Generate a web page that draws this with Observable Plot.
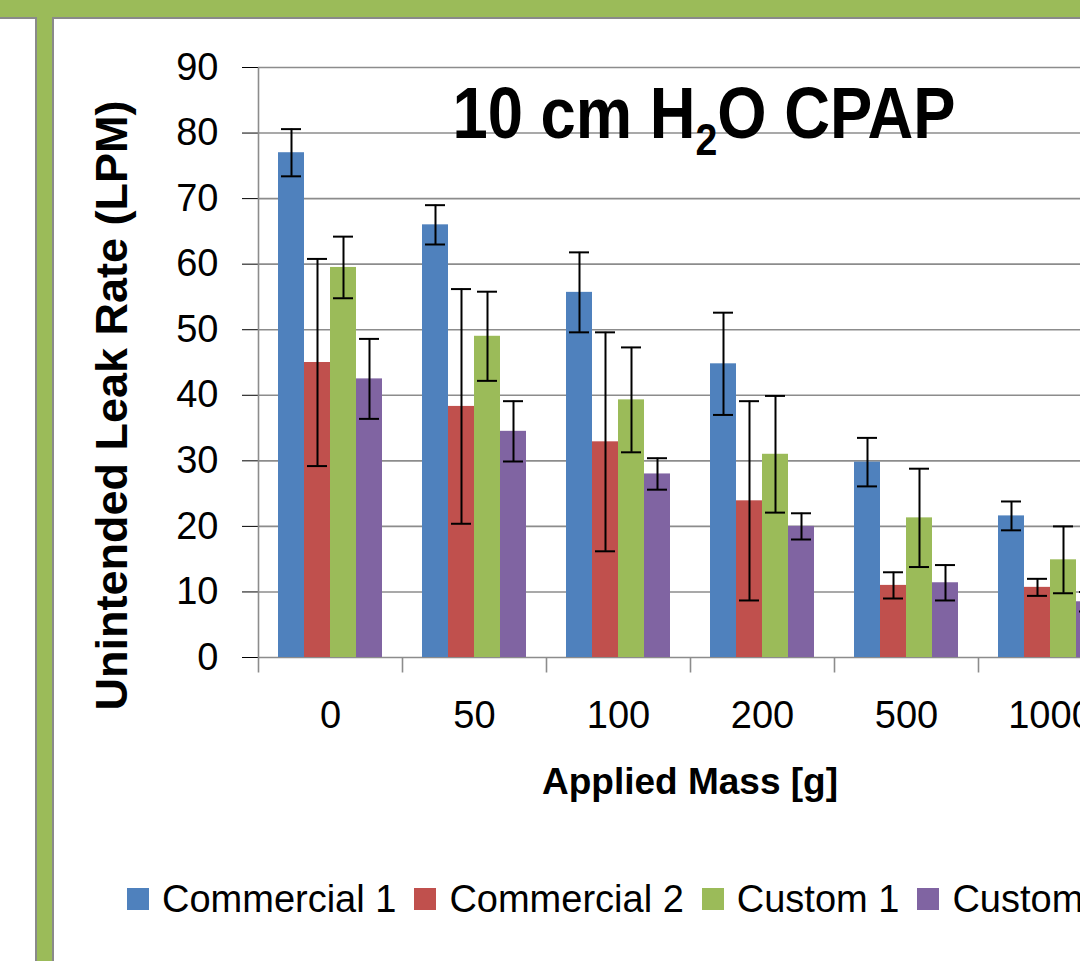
<!DOCTYPE html>
<html>
<head>
<meta charset="utf-8">
<script src="https://cdn.jsdelivr.net/npm/d3@7"></script>
<script src="https://cdn.jsdelivr.net/npm/@observablehq/plot@0.6"></script>
<style>
  html, body { margin: 0; padding: 0; }
  body { width: 1080px; height: 961px; overflow: hidden; background: #9BBB59; position: relative; font-family: "Liberation Sans", Arial, sans-serif; }
  .panel { position: absolute; background: #fff; border: 2px solid #8a8a8a; box-sizing: content-box; }
  #chart { position: absolute; left: 0; top: 0; width: 1200px; height: 740px; }
  #chart svg { max-width: none !important; width: 1200px !important; height: 740px !important; }
  #chart g[aria-label="y-axis tick"] { stroke: #8c8c8c; }
  #chart .tick line { stroke: #8c8c8c; }
  .txt { position: absolute; white-space: nowrap; line-height: 1; color: #000; }
  #title { left: 304px; top: 77px; width: 800px; text-align: center; font-weight: bold; font-size: 72px; transform: scaleX(0.88); transform-origin: 50% 50%; }
  #title sub { font-size: 0.62em; vertical-align: -17px; line-height: 0; }
  #ylabel { left: -239px; top: 383px; width: 700px; text-align: center; font-weight: bold; font-size: 45px; transform: rotate(-90deg); transform-origin: 50% 50%; }
  #xlabel { left: 390px; top: 763px; width: 600px; text-align: center; font-weight: bold; font-size: 37px; }
  #legend { position: absolute; left: 127px; top: 880px; height: 38px; display: flex; align-items: center; white-space: nowrap; font-size: 38px; line-height: 1; }
  #legend .sw { width: 22px; height: 22px; margin-right: 13px; flex: none; }
  #legend .lab { margin-right: 18px; }
</style>
</head>
<body>
<div class="panel" style="left:-4px; top:17px; width:37px; height:1000px;"></div>
<div class="panel" style="left:52px; top:17px; width:1200px; height:1000px;"></div>
<div id="chart"></div>
<div id="title" class="txt">10 cm H<sub>2</sub>O CPAP</div>
<div id="ylabel" class="txt">Unintended Leak Rate (LPM)</div>
<div id="xlabel" class="txt">Applied Mass [g]</div>
<div id="legend"></div>
<script>
// ---- data ----
const categories = ["0", "50", "100", "200", "500", "1000"];
const seriesNames = ["Commercial 1", "Commercial 2", "Custom 1", "Custom 2"];
const seriesColors = ["#4F81BD", "#C0504D", "#9BBB59", "#8064A2"];

const commercial1 = [77.0, 66.0, 55.7, 44.8, 29.8, 21.6];
const commercial1Err = [3.6, 3.0, 6.1, 7.8, 3.7, 2.2];
const commercial2 = [45.0, 38.3, 32.9, 23.9, 11.0, 10.7];
const commercial2Err = [15.8, 17.9, 16.7, 15.2, 2.0, 1.3];
const custom1 = [59.5, 49.0, 39.3, 31.0, 21.3, 14.9];
const custom1Err = [4.7, 6.8, 8.0, 8.9, 7.5, 5.1];
const custom2 = [42.5, 34.5, 28.0, 20.0, 11.4, 8.5];
const custom2Err = [6.1, 4.6, 2.4, 2.0, 2.7, 1.5];

const yTicks = [0, 10, 20, 30, 40, 50, 60, 70, 80, 90];

// ---- table built from the arrays ----
const seriesValues = [commercial1, commercial2, custom1, custom2];
const seriesErrors = [commercial1Err, commercial2Err, custom1Err, custom2Err];
const rows = [];
categories.forEach((cat, i) => {
  seriesNames.forEach((s, j) => {
    rows.push({cat, series: s, value: seriesValues[j][i], err: seriesErrors[j][i]});
  });
});

const W = 1200, H = 740, mL = 255, mR = 76, mT = 67, mB = 83;
const plotH = H - mT - mB;
const tickLen = 15;
const gray = "#8c8c8c";

const downTick = {draw(ctx) { ctx.moveTo(0, 0); ctx.lineTo(0, tickLen); }};
const axisLine = {draw(ctx) { ctx.moveTo(0, tickLen); ctx.lineTo(0, -plotH); }};

const chart = Plot.plot({
  width: W, height: H,
  marginLeft: mL, marginRight: mR, marginTop: mT, marginBottom: mB,
  style: {fontFamily: "Liberation Sans, Arial, sans-serif", fontSize: "38px", color: "#000", background: "transparent", overflow: "visible"},
  fx: {domain: categories, padding: 0, label: null, tickSize: 0, tickPadding: 44, axis: "bottom"},
  x: {domain: seriesNames, paddingInner: 0, paddingOuter: 0.71, axis: null},
  y: {domain: [0, 90], ticks: yTicks, tickSize: 16, tickPadding: 24, label: null, tickFormat: d => String(d)},
  color: {domain: seriesNames, range: seriesColors},
  marks: [
    Plot.ruleY(yTicks, {stroke: gray, strokeWidth: 1.6}),
    Plot.barY(rows, {fx: "cat", x: "series", y: "value", fill: "series"}),
    Plot.ruleX(rows, {fx: "cat", x: "series", y1: d => d.value - d.err, y2: d => d.value + d.err, stroke: "#000", strokeWidth: 2}),
    Plot.tickY(rows, {fx: "cat", x: "series", y: d => d.value - d.err, insetLeft: 3, insetRight: 3, stroke: "#000", strokeWidth: 2}),
    Plot.tickY(rows, {fx: "cat", x: "series", y: d => d.value + d.err, insetLeft: 3, insetRight: 3, stroke: "#000", strokeWidth: 2}),
    Plot.dot(categories.slice(1), {fx: d => d, frameAnchor: "bottom-left", symbol: downTick, r: 3, fill: "none", stroke: gray, strokeWidth: 1.6}),
    Plot.dot(categories.slice(0, 1), {fx: d => d, frameAnchor: "bottom-left", symbol: axisLine, r: 3, fill: "none", stroke: gray, strokeWidth: 1.6})
  ]
});
document.getElementById("chart").appendChild(chart);

// legend
const legend = document.getElementById("legend");
seriesNames.forEach((s, i) => {
  const sw = document.createElement("span");
  sw.className = "sw";
  sw.style.background = seriesColors[i];
  const lab = document.createElement("span");
  lab.className = "lab";
  lab.textContent = s;
  legend.appendChild(sw);
  legend.appendChild(lab);
});
</script>
</body>
</html>
